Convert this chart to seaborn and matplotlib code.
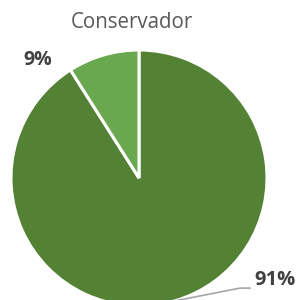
import numpy as np
import matplotlib
matplotlib.use("Agg")
import matplotlib.pyplot as plt
import seaborn as sns

categories = ["Sí", "No"]
values = [91, 9]
labels = ["91%", "9%"]
colors = ["#548235", "#6AA84F"]
title = "Conservador"

sns.set_theme(style="white")
plt.rcParams['font.family'] = ['Open Sans', 'DejaVu Sans']

fig = plt.figure(figsize=(2.99, 3.0), dpi=100)
cx, cy, r = 139, 178, 128
ax = fig.add_axes([(cx - r) / 299, (300 - cy - r) / 300, 2 * r / 299, 2 * r / 300])
wedges, _ = ax.pie(values, colors=colors, startangle=90, counterclock=False,
                   radius=1.0, wedgeprops=dict(edgecolor="white", linewidth=2.2))
ax.set_xlim(-1, 1)
ax.set_ylim(-1, 1)
ax.set_aspect("equal")
ax.axis("off")

# 91% label with leader line
w = wedges[0]
mid = np.deg2rad((w.theta1 + w.theta2) / 2)
x0, y0 = np.cos(mid) * 1.0, np.sin(mid) * 1.0
ax.plot([x0, 0.79, 0.87], [y0, -0.86, -0.86], color="#A6A6A6", lw=1.2, clip_on=False)
ax.text(0.90, -0.80, labels[0], ha="left", va="center", fontsize=14.5,
        fontweight="bold", color="#404040")

# 9% label
ax.text(-0.79, 0.92, labels[1], ha="center", va="center", fontsize=14,
        fontweight="bold", color="#404040")

fig.text(132 / 299, 1 - 22.5 / 300, title, ha="center", va="center",
         fontsize=14.8, color="#595959")

fig.savefig("out.png", dpi=100)
